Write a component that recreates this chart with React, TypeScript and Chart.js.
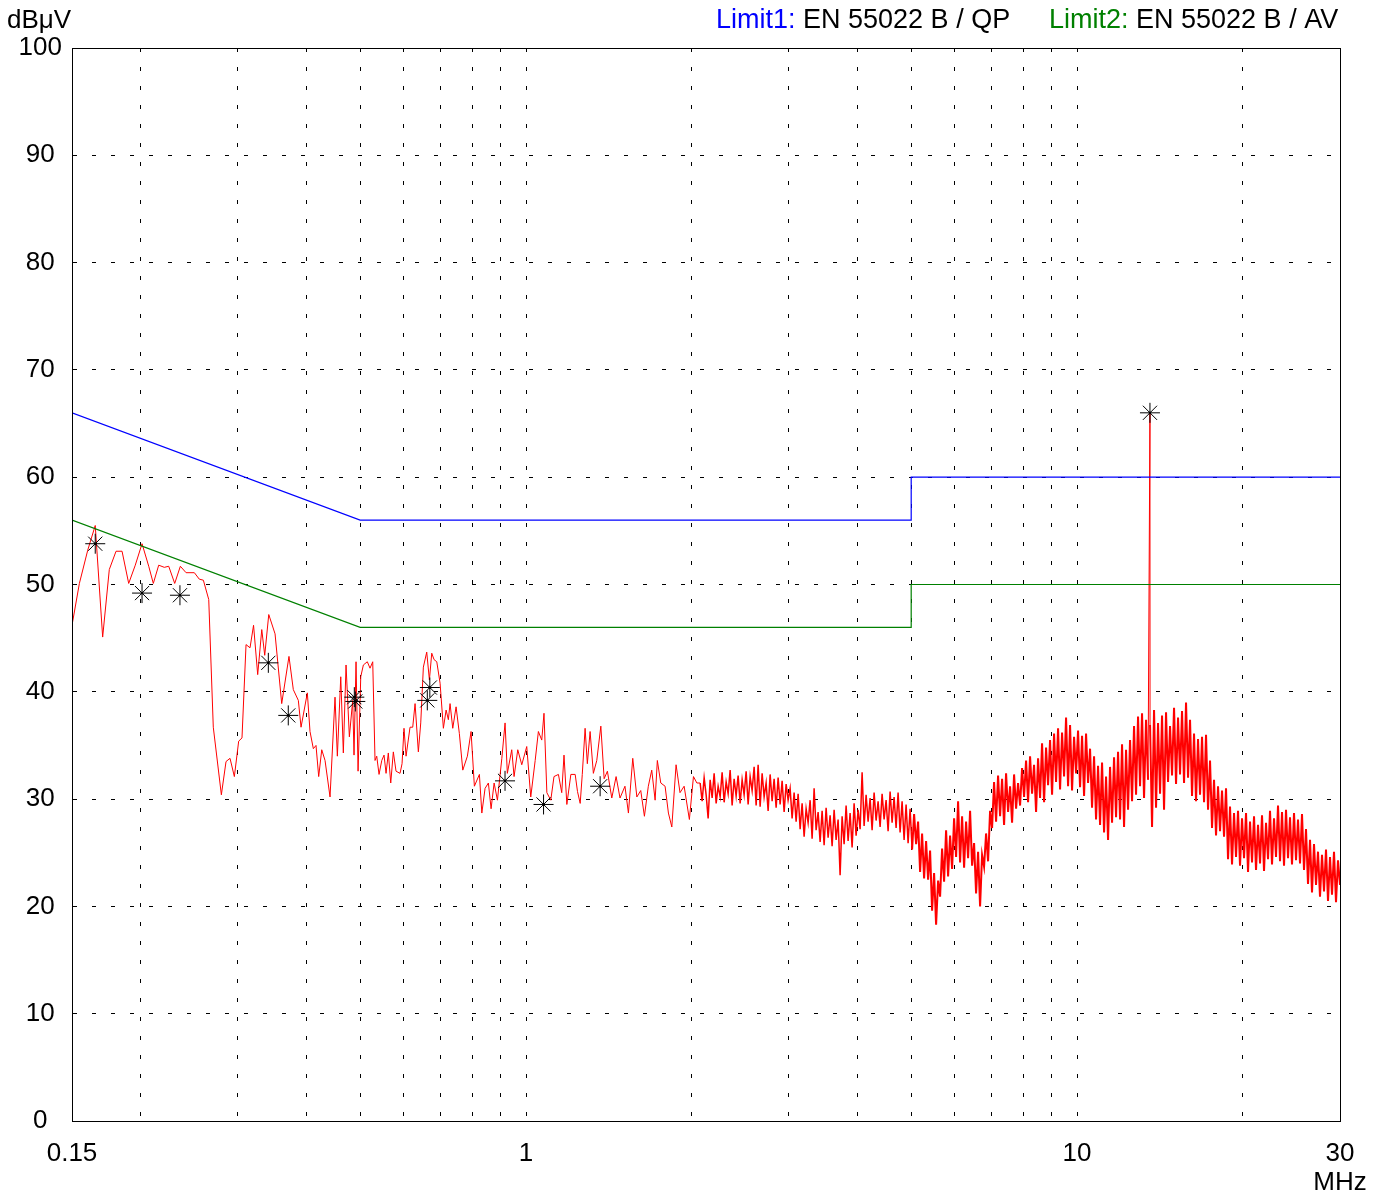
import React, { useEffect, useRef } from 'react';
import { Chart, registerables } from 'chart.js';

Chart.register(...registerables);

const FONT = '"Liberation Sans", Arial, Helvetica, sans-serif';

// ---- axes ----
const xGridTicksMHz = [0.15, 0.2, 0.3, 0.4, 0.5, 0.6, 0.7, 0.8, 0.9, 1, 2, 3, 4, 5, 6, 7, 8, 9, 10, 20, 30];
const xLabelTicksMHz = [0.15, 1, 10, 30];
const yTicksDb = [0, 10, 20, 30, 40, 50, 60, 70, 80, 90, 100];

// ---- texts ----
const yAxisTitle = 'dBμV';
const xAxisTitle = 'MHz';
const legend1Name = 'Limit1:';
const legend1Text = ' EN 55022 B / QP';
const legend2Name = 'Limit2:';
const legend2Text = ' EN 55022 B / AV';

// ---- limit lines ----
const limitFreqMHz = [0.15, 0.5, 5, 5, 30];
const qpLimitDb = [66, 56, 56, 60, 60];
const avLimitDb = [56, 46, 46, 50, 50];

// ---- measured trace, low band (read point by point) ----
const lowFreqMHz = [
  0.150, 0.1547, 0.1602, 0.1653, 0.1705, 0.1753, 0.1803, 0.1849, 0.1901, 0.1954,
  0.2010, 0.2067, 0.2107, 0.2155, 0.2206, 0.2247, 0.2304, 0.2359, 0.2416, 0.2501,
  0.2553, 0.2597, 0.2656, 0.2707, 0.2800, 0.2855, 0.2903, 0.2956, 0.3010, 0.3052,
  0.3104, 0.3156, 0.3203, 0.3259, 0.3315, 0.3356, 0.3413, 0.3504, 0.3603, 0.3714,
  0.3782, 0.3862, 0.3906, 0.4010, 0.4055, 0.4112, 0.4158, 0.4205, 0.4259, 0.4318,
  0.4409, 0.4502, 0.4546, 0.4611, 0.4661, 0.4714, 0.4780, 0.4847, 0.4874, 0.4915,
  0.4957, 0.5013, 0.5068, 0.5152, 0.5211, 0.5270, 0.5321, 0.5359, 0.5411, 0.5473,
  0.5525, 0.5572, 0.5625, 0.5682, 0.5744, 0.5809, 0.5907, 0.5957, 0.6006, 0.6058,
  0.6159, 0.6229, 0.6290, 0.6377, 0.6441, 0.6512, 0.6604, 0.6678, 0.6744, 0.6810,
  0.6887, 0.6983, 0.7080, 0.7161, 0.7229, 0.7280, 0.7363, 0.7466, 0.7569, 0.7678,
  0.7827, 0.7948, 0.8059, 0.8230, 0.8314, 0.8427, 0.8545, 0.8642, 0.8752, 0.8874,
  0.9039, 0.9162, 0.9249, 0.9421, 0.9513, 0.9661, 0.9824, 1.003, 1.020, 1.039,
  1.053, 1.068, 1.078, 1.091, 1.109, 1.124, 1.145, 1.161, 1.172, 1.186,
  1.206, 1.228, 1.240, 1.254, 1.265, 1.280, 1.292, 1.307, 1.325, 1.344,
  1.367, 1.386, 1.405, 1.431, 1.457, 1.481, 1.512, 1.534, 1.562, 1.589,
  1.615, 1.640, 1.667, 1.691, 1.715, 1.731, 1.756, 1.788, 1.813, 1.839,
  1.872, 1.903, 1.936, 1.979, 2.013, 2.042,
];
const lowLevelDb = [
  46.2, 50.1, 53.2, 55.5, 45.1, 51.4, 53.1, 53.1, 50.1, 51.8,
  53.8, 51.7, 50.1, 51.8, 51.6, 51.7, 50.1, 51.7, 51.1, 51.1,
  50.5, 50.4, 48.6, 36.7, 30.4, 33.5, 33.8, 32.1, 35.4, 35.7,
  44.4, 44.1, 46.2, 41.6, 45.8, 43.4, 47.2, 45.4, 38.9, 43.3,
  40.2, 39.2, 36.7, 39.9, 36.3, 34.7, 35.0, 32.1, 34.6, 33.6,
  30.2, 39.5, 34.0, 41.4, 34.3, 42.5, 35.8, 39.2, 34.1, 42.8,
  32.6, 41.4, 42.5, 42.8, 42.2, 42.8, 33.6, 34.0, 32.3, 33.6,
  34.1, 32.4, 34.3, 31.5, 34.4, 32.6, 32.4, 33.3, 36.6, 34.0,
  36.7, 36.7, 38.9, 34.4, 37.1, 42.3, 43.7, 41.1, 43.6, 43.0,
  42.8, 40.8, 36.6, 38.3, 37.4, 38.9, 36.6, 38.6, 36.1, 32.7,
  34.0, 36.3, 31.2, 32.3, 28.7, 31.0, 31.5, 29.1, 31.5, 29.9,
  33.8, 37.1, 32.4, 34.6, 32.1, 34.6, 33.2, 34.9, 30.2, 33.6,
  36.3, 35.5, 38.0, 30.6, 29.9, 32.1, 32.3, 30.6, 34.1, 29.5,
  32.3, 32.3, 30.7, 29.6, 32.3, 36.6, 33.3, 36.3, 32.4, 33.6,
  36.8, 31.9, 32.6, 30.1, 32.1, 30.1, 31.2, 28.7, 33.8, 30.2,
  30.8, 28.4, 31.2, 32.7, 29.9, 33.6, 31.5, 31.2, 28.7, 27.4,
  33.2, 30.6, 31.2, 28.1, 32.1, 31.5,
];

const sweepStartMHz = 2.07;
const sweepStopMHz = 30;
const sweepLevelDb = [
  31.5, 29.8, 32.0, 30.4, 28.2, 31.8, 30.1, 32.4, 29.6, 31.2,
  30.2, 32.5, 29.7, 31.6, 30.5, 32.7, 29.4, 31.9, 30.3, 32.2,
  29.6, 31.8, 30.4, 32.6, 29.5, 32.1, 30.8, 33.0, 29.4, 33.2,
  29.3, 32.4, 30.2, 31.5, 28.9, 32.3, 29.8, 31.9, 29.2, 32.0,
  29.5, 31.7, 28.8, 31.4, 29.9, 31.0, 28.2, 30.6, 27.9, 30.5,
  27.2, 29.6, 26.5, 29.1, 27.8, 29.9, 26.3, 31.0, 27.1, 28.8,
  26.0, 28.9, 25.7, 29.2, 26.4, 28.5, 25.6, 29.0, 26.2, 28.1,
  22.9, 28.4, 25.8, 29.4, 26.1, 28.7, 25.5, 29.6, 26.6, 29.0,
  27.2, 32.5, 27.5, 30.4, 27.9, 30.1, 27.1, 30.6, 28.0, 29.8,
  27.4, 30.5, 28.1, 29.9, 27.0, 30.7, 27.8, 30.2, 27.3, 30.6,
  26.9, 29.8, 26.2, 29.5, 25.9, 29.1, 25.3, 28.6, 25.8, 27.9,
  23.2, 26.8, 22.6, 26.1, 22.5, 25.2, 19.6, 23.1, 18.3, 22.4,
  20.9, 25.4, 22.3, 27.1, 22.8, 26.6, 23.5, 28.2, 24.6, 29.8,
  24.1, 28.4, 23.6, 27.9, 24.5, 28.9, 23.8, 25.9, 21.2, 25.1,
  20.0, 24.8, 23.7, 26.8, 24.2, 28.9, 27.3, 31.6, 27.9, 32.2,
  28.4, 31.9, 27.6, 32.4, 28.8, 31.2, 27.8, 32.3, 29.1, 31.5,
  29.4, 32.9, 30.2, 33.6, 29.7, 34.0, 30.5, 33.2, 28.8, 33.8,
  30.1, 35.2, 29.7, 34.8, 31.3, 35.5, 30.4, 36.1, 31.6, 36.6,
  30.9, 36.2, 32.1, 37.6, 31.2, 36.9, 30.8, 35.8, 32.4, 36.4,
  31.1, 35.9, 30.3, 36.1, 31.5, 34.7, 29.2, 34.0, 28.1, 33.1,
  27.6, 33.4, 26.9, 32.1, 26.2, 33.0, 27.8, 33.9, 28.3, 34.4,
  28.1, 35.1, 27.4, 34.6, 29.0, 35.5, 29.8, 36.8, 30.4, 37.7,
  31.2, 38.0, 30.1, 37.4, 31.8, 36.9, 27.4, 38.3, 29.2, 37.1,
  30.5, 37.8, 29.0, 38.1, 31.6, 36.8, 32.2, 38.5, 31.4, 37.6,
  32.3, 38.2, 31.5, 39.0, 32.0, 37.4, 30.3, 36.1, 29.8, 35.6,
  30.4, 35.8, 29.7, 36.0, 29.0, 33.6, 27.3, 31.8, 26.6, 31.2,
  27.0, 30.8, 26.5, 31.0, 24.4, 29.3, 23.9, 28.7, 24.6, 28.9,
  23.8, 28.2, 24.5, 28.7, 23.2, 27.9, 24.1, 28.4, 23.4, 27.6,
  24.0, 28.5, 23.3, 27.8, 24.4, 28.9, 23.9, 28.2, 24.6, 29.4,
  24.2, 28.8, 23.8, 29.0, 24.5, 28.3, 23.9, 28.7, 24.3, 28.1,
  24.0, 28.6, 23.4, 27.2, 22.1, 26.2, 21.3, 25.8, 22.0, 25.1,
  20.9, 24.8, 21.4, 25.3, 20.5, 24.6, 21.1, 25.1, 20.4, 24.3, 22.0,
];

// ---- 13.56 MHz spike ----
const spikeFreqMHz = 13.56;
const spikeLevelDb = 66.0;

// ---- final measurement markers ----
const markerFreqMHz = [0.1653, 0.201, 0.2355, 0.3407, 0.3703, 0.488, 0.490, 0.662, 0.669, 0.916, 1.076, 1.363, 13.56];
const markerLevelDb = [53.8, 49.2, 49.0, 42.7, 37.8, 39.5, 39.1, 39.2, 40.4, 31.7, 29.5, 31.2, 66.0];

const textPlugin = {
  id: 'emcTexts',
  afterDraw(chart: any) {
    const ctx: CanvasRenderingContext2D = chart.ctx;
    const { left, right, top, bottom } = chart.chartArea;
    ctx.save();
    ctx.strokeStyle = '#000';
    ctx.lineWidth = 1;
    ctx.setLineDash([]);
    ctx.strokeRect(Math.round(left) + 0.5, Math.round(top) + 0.5, Math.round(right - left), Math.round(bottom - top));

    ctx.textBaseline = 'alphabetic';
    ctx.fillStyle = '#000';
    ctx.font = `26px ${FONT}`;
    ctx.textAlign = 'left';
    ctx.fillText(yAxisTitle, 7, 28);
    ctx.textAlign = 'center';
    ctx.fillText(xAxisTitle, right, 1190);

    ctx.font = `27px ${FONT}`;
    ctx.textAlign = 'left';
    let x = 716;
    ctx.fillStyle = '#0000ff';
    ctx.fillText(legend1Name, x, 28);
    x += ctx.measureText(legend1Name).width;
    ctx.fillStyle = '#000';
    ctx.fillText(legend1Text, x, 28);

    x = 1049;
    ctx.fillStyle = '#008000';
    ctx.fillText(legend2Name, x, 28);
    x += ctx.measureText(legend2Name).width;
    ctx.fillStyle = '#000';
    ctx.fillText(legend2Text, x, 28);
    ctx.restore();
  },
};

function buildTrace() {
  const pts: { x: number; y: number }[] = [];
  lowFreqMHz.forEach((f, i) => pts.push({ x: f, y: lowLevelDb[i] }));
  const n = sweepLevelDb.length;
  sweepLevelDb.forEach((v, i) => {
    pts.push({ x: sweepStartMHz * Math.pow(sweepStopMHz / sweepStartMHz, i / (n - 1)), y: v });
  });
  pts.push({ x: spikeFreqMHz, y: spikeLevelDb });
  pts.sort((a, b) => a.x - b.x);
  return pts;
}

export default function App() {
  const ref = useRef<HTMLCanvasElement | null>(null);

  useEffect(() => {
    if (!ref.current) return;
    const markers = markerFreqMHz.map((f, i) => ({ x: f, y: markerLevelDb[i] }));
    const chart = new Chart(ref.current, {
      type: 'line',
      data: {
        datasets: [
          {
            label: 'markers',
            data: markers,
            showLine: false,
            pointStyle: 'star',
            pointRadius: 10,
            borderColor: '#000',
            borderWidth: 1,
            backgroundColor: '#000',
          },
          {
            label: 'marker dots',
            data: markers,
            showLine: false,
            pointStyle: 'rect',
            pointRadius: 1.6,
            borderWidth: 0,
            backgroundColor: '#000',
            borderColor: '#000',
          },
          {
            label: 'QP',
            data: limitFreqMHz.map((f, i) => ({ x: f, y: qpLimitDb[i] })),
            borderColor: '#0000ff',
            borderWidth: 1.2,
            pointRadius: 0,
            tension: 0,
          },
          {
            label: 'AV',
            data: limitFreqMHz.map((f, i) => ({ x: f, y: avLimitDb[i] })),
            borderColor: '#008000',
            borderWidth: 1.2,
            pointRadius: 0,
            tension: 0,
          },
          {
            label: 'trace',
            data: buildTrace(),
            borderColor: '#ff0000',
            borderWidth: 1,
            pointRadius: 0,
            tension: 0,
            segment: {
              borderWidth: (ctx: any) => {
                const f = ctx.p0.parsed.x;
                if (ctx.p0.parsed.y > 45 && f > 5) return 1;
                if (ctx.p1.parsed.y > 45 && f > 5) return 1;
                if (f < sweepStartMHz) return 1;
                if (f < 5) return 1.5;
                return 2;
              },
            },
          },
        ],
      },
      options: {
        responsive: false,
        animation: false,
        devicePixelRatio: 1,
        events: [],
        layout: { padding: { left: 0, top: 48, right: 46, bottom: 0 } },
        plugins: { legend: { display: false }, tooltip: { enabled: false }, title: { display: false } },
        scales: {
          x: {
            type: 'logarithmic',
            min: 0.15,
            max: 30,
            afterBuildTicks: (scale: any) => {
              scale.ticks = xGridTicksMHz.map((v) => ({ value: v }));
            },
            afterFit: (scale: any) => {
              scale.height = 73;
            },
            grid: { color: '#000', lineWidth: 1, drawTicks: false },
            border: { display: true, color: '#000', width: 1, dash: [4, 15] },
            ticks: {
              autoSkip: false,
              maxRotation: 0,
              minRotation: 0,
              padding: 17,
              color: '#000',
              font: { family: FONT, size: 26 },
              callback: (value: any) => (xLabelTicksMHz.includes(Number(value)) ? String(value) : ''),
            },
          },
          y: {
            type: 'linear',
            min: 0,
            max: 100,
            afterBuildTicks: (scale: any) => {
              scale.ticks = yTicksDb.map((v) => ({ value: v }));
            },
            afterFit: (scale: any) => {
              scale.width = 72;
            },
            grid: { color: '#000', lineWidth: 1, drawTicks: false },
            border: { display: true, color: '#000', width: 1, dash: [4, 15] },
            ticks: {
              padding: 10,
              crossAlign: 'center',
              color: '#000',
              font: { family: FONT, size: 26 },
              callback: (value: any) => String(value),
            },
          },
        },
      },
      plugins: [textPlugin],
    } as any);
    return () => chart.destroy();
  }, []);

  return (
    <div style={{ position: 'fixed', left: 0, top: 0, width: 1386, height: 1194, background: '#fff' }}>
      <canvas ref={ref} width={1386} height={1194} style={{ display: 'block', width: 1386, height: 1194 }} />
    </div>
  );
}
